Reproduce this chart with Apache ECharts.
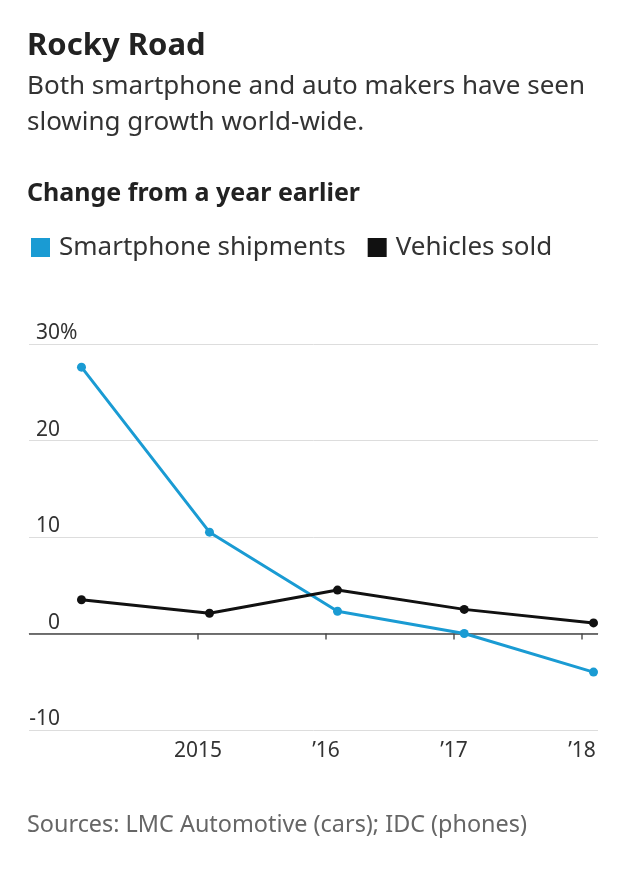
<!DOCTYPE html>
<html>
<head>
<meta charset="utf-8">
<title>Rocky Road</title>
<script src="https://cdn.jsdelivr.net/npm/echarts@6/dist/echarts.min.js"></script>
<style>
  html, body { margin: 0; padding: 0; background: #fff; }
  #chart { width: 640px; height: 894px; }
</style>
</head>
<body>
<div id="chart"></div>
<script>
// position of each annual reading on the year axis
var periods = [2014.09, 2015.09, 2016.09, 2017.08, 2018.09];
// change from a year earlier, %
var smartphoneShipments = [27.6, 10.5, 2.3, 0.0, -4.0];
var vehiclesSold = [3.5, 2.1, 4.5, 2.5, 1.1];

var yearTicks = [2015, 2016, 2017, 2018];
var yearLabels = ['2015', '\u201916', '\u201917', '\u201918'];
var valueTicks = [-10, 0, 10, 20, 30];
var TOP_TICK = valueTicks[valueTicks.length - 1];

var BLUE = '#1a9bd3';
var BLACK = '#111111';
var FONT = '"Noto Sans", sans-serif';

function pairs(xs, ys) {
    return xs.map(function (x, i) { return [x, ys[i]]; });
}

var chart = echarts.init(document.getElementById('chart'), null, { renderer: 'canvas' });

// shared label look for both value axes
var valueLabel = {
    inside: true,
    verticalAlign: 'bottom',
    fontFamily: FONT,
    fontSize: 21,
    color: '#333'
};

var option = {
    backgroundColor: '#ffffff',
    animation: false,
    textStyle: { fontFamily: FONT },
    title: [
        {
            text: 'Rocky Road',
            left: 27,
            top: 31,
            padding: 0,
            textStyle: { fontFamily: FONT, fontSize: 31, fontWeight: 'bold', color: '#222', lineHeight: 31 }
        },
        {
            text: 'Both smartphone and auto makers have seen\nslowing growth world-wide.',
            left: 27,
            top: 68.5,
            padding: 0,
            textStyle: { fontFamily: FONT, fontSize: 26, fontWeight: 'normal', color: '#333', lineHeight: 36 }
        },
        {
            text: 'Change from a year earlier',
            left: 27,
            top: 181,
            padding: 0,
            textStyle: { fontFamily: FONT, fontSize: 25, fontWeight: 'bold', color: '#222', lineHeight: 25 }
        },
        {
            text: 'Sources: LMC Automotive (cars); IDC (phones)',
            left: 27,
            top: 813.5,
            padding: 0,
            textStyle: { fontFamily: FONT, fontSize: 23.4, fontWeight: 'normal', color: '#666', lineHeight: 23 }
        }
    ],
    legend: {
        left: 31,
        top: 234.5,
        padding: 0,
        icon: 'rect',
        itemWidth: 19,
        itemHeight: 19,
        itemGap: 22,
        selectedMode: false,
        textStyle: { fontFamily: FONT, fontSize: 26, color: '#333', padding: [0, 0, 0, 4] },
        data: [
            { name: 'Smartphone shipments', itemStyle: { color: BLUE } },
            { name: 'Vehicles sold', itemStyle: { color: BLACK } }
        ]
    },
    grid: { left: 29, right: 42, top: 344, bottom: 164, containLabel: false },
    xAxis: {
        type: 'value',
        min: 2013.68,
        max: 2018.125,
        axisLine: { show: true, lineStyle: { color: '#dddddd', width: 1 } },
        axisTick: {
            show: true,
            customValues: yearTicks,
            length: 6,
            lineStyle: { color: '#555', width: 1.5 }
        },
        axisLabel: {
            customValues: yearTicks,
            margin: 11,
            fontFamily: FONT,
            fontSize: 21,
            color: '#333',
            formatter: function (v) {
                var i = yearTicks.indexOf(Math.round(v));
                return i >= 0 ? yearLabels[i] : '';
            }
        },
        splitLine: { show: false }
    },
    yAxis: [
        {
            // numbers right-aligned on one edge
            type: 'value',
            min: -10,
            max: 30,
            interval: 10,
            axisLine: { show: false },
            axisTick: { show: false },
            axisLabel: Object.assign({}, valueLabel, {
                margin: 31,
                align: 'right',
                formatter: function (v) { return v === TOP_TICK ? '' : String(v); }
            }),
            splitLine: { show: true, lineStyle: { color: '#dddddd', width: 1 } }
        },
        {
            // top label carries the unit, hanging past the number column
            type: 'value',
            position: 'left',
            min: -10,
            max: 30,
            interval: 10,
            axisLine: { show: false },
            axisTick: { show: false },
            axisLabel: Object.assign({}, valueLabel, {
                margin: 7,
                align: 'left',
                formatter: function (v) { return v === TOP_TICK ? v + '%' : ''; }
            }),
            splitLine: { show: false }
        }
    ],
    series: [
        {
            name: 'Smartphone shipments',
            type: 'line',
            data: pairs(periods, smartphoneShipments),
            color: BLUE,
            symbol: 'circle',
            symbolSize: 9,
            showSymbol: true,
            lineStyle: { color: BLUE, width: 3 },
            itemStyle: { color: BLUE },
            z: 3,
            markLine: {
                silent: true,
                symbol: 'none',
                z: 1,
                label: { show: false },
                lineStyle: { color: '#444', width: 1.6, type: 'solid' },
                data: [{ yAxis: 0 }]
            }
        },
        {
            name: 'Vehicles sold',
            type: 'line',
            data: pairs(periods, vehiclesSold),
            color: BLACK,
            symbol: 'circle',
            symbolSize: 9,
            showSymbol: true,
            lineStyle: { color: BLACK, width: 3 },
            itemStyle: { color: BLACK },
            z: 4
        }
    ]
};

chart.setOption(option);
</script>
</body>
</html>
